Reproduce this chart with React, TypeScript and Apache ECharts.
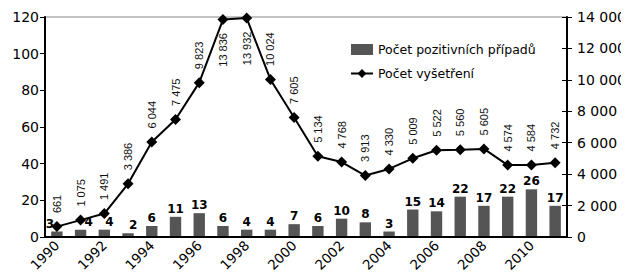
import React, { useEffect, useRef } from "react";
import * as echarts from "echarts";

const years = ["1990","1991","1992","1993","1994","1995","1996","1997","1998","1999","2000","2001","2002","2003","2004","2005","2006","2007","2008","2009","2010","2011"];
const positives = [3,4,4,2,6,11,13,6,4,4,7,6,10,8,3,15,14,22,17,22,26,17];
const exams = [661,1075,1491,3386,6044,7475,9823,13836,13932,10024,7605,5134,4768,3913,4330,5009,5522,5560,5605,4574,4584,4732];
const leftTicks = [0, 120, 20];
const rightTicks = [0, 14000, 2000];

const fmt = (v: number) => String(v).replace(/\B(?=(\d{3})+(?!\d))/g, " ");

export default function App() {
  const ref = useRef<HTMLDivElement>(null);
  useEffect(() => {
    if (!ref.current) return;
    const chart = echarts.init(ref.current, null, { renderer: "svg" });
    const font = "DejaVu Sans, Verdana, sans-serif";
    const barOffsets: Record<number, number[]> = { 0: [-7, 0], 1: [8, 0], 2: [5, 0], 3: [5, 0] };
    chart.setOption({
      animation: false,
      grid: { left: 45, right: 60, top: 17, bottom: 43, show: true, borderColor: "#888", borderWidth: 1, containLabel: false },
      legend: {
        left: 345, top: 38, orient: "vertical", itemGap: 11, itemWidth: 22, itemHeight: 11,
        textStyle: { fontFamily: font, fontSize: 12.5, color: "#000" },
        data: [
          { name: "Počet pozitivních případů", icon: "rect" },
          { name: "Počet vyšetření" },
        ],
      },
      xAxis: [
        {
          type: "category", data: years, boundaryGap: true,
          axisLine: { lineStyle: { color: "#000", width: 2 } },
          axisTick: { lineStyle: { color: "#000" }, length: 4 },
          axisLabel: { interval: 1, rotate: 45, fontFamily: font, fontSize: 13.5, color: "#000", margin: 6 },
          z: 5,
        },
        {
          type: "category", data: years, boundaryGap: true, position: "bottom",
          axisLine: { show: false },
          axisTick: { inside: true, lineStyle: { color: "#000" }, length: 3 },
          axisLabel: { show: false },
          z: 5,
        },
      ],
      yAxis: [
        {
          type: "value", min: leftTicks[0], max: leftTicks[1], interval: leftTicks[2],
          splitLine: { show: false },
          axisLine: { show: true, lineStyle: { color: "#000", width: 2 } },
          axisTick: { show: true, length: 5, lineStyle: { color: "#000" } },
          axisLabel: { fontFamily: font, fontSize: 14, color: "#000", margin: 6 },
        },
        {
          type: "value", min: rightTicks[0], max: rightTicks[1], interval: rightTicks[2],
          splitLine: { show: false },
          axisLine: { show: true, lineStyle: { color: "#000", width: 2 } },
          axisTick: { show: true, length: 5, lineStyle: { color: "#000" } },
          axisLabel: { fontFamily: font, fontSize: 14, color: "#000", margin: 10, formatter: (v: number) => fmt(v) },
        },
        {
          type: "value", min: rightTicks[0], max: rightTicks[1], interval: rightTicks[2], position: "right",
          splitLine: { show: false },
          axisLine: { show: false },
          axisTick: { show: true, inside: true, length: 5, lineStyle: { color: "#000" } },
          axisLabel: { show: false },
        },
      ],
      series: [
        {
          name: "Počet pozitivních případů", type: "bar", yAxisIndex: 0, barWidth: "48%",
          itemStyle: { color: "#555555" },
          data: positives.map((v, i) => ({
            value: v,
            label: barOffsets[i] ? { offset: barOffsets[i] } : undefined,
          })),
          label: { show: true, position: "top", distance: 2, fontFamily: font, fontWeight: "bold", fontSize: 12, color: "#000" },
          z: 2,
        },
        {
          name: "Počet vyšetření", type: "line", yAxisIndex: 1,
          symbol: "diamond", symbolSize: 11,
          lineStyle: { color: "#000", width: 2 },
          itemStyle: { color: "#000" },
          data: exams.map((v, i) => ({
            value: v,
            label: (i === 7 || i === 8)
              ? { position: "bottom", align: "right", distance: 8 }
              : undefined,
          })),
          label: {
            show: true, position: "top", rotate: 90, align: "left", verticalAlign: "middle", distance: 8,
            fontFamily: "Liberation Sans, Arial, sans-serif", fontSize: 11, color: "#111",
            formatter: (p: any) => fmt(p.value),
          },
          z: 3,
        },
      ],
    });
    return () => chart.dispose();
  }, []);
  return <div ref={ref} style={{ width: 629, height: 280, margin: -8 }} />;
}
